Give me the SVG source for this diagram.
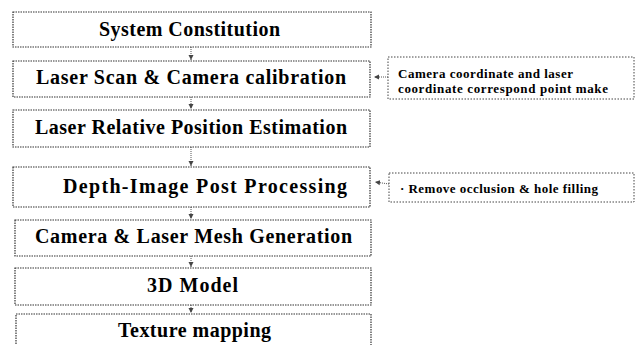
<svg xmlns="http://www.w3.org/2000/svg" width="636" height="345" viewBox="0 0 636 345">
<style>
.box{fill:#fff;stroke:#333;stroke-width:1.2;stroke-dasharray:1.5 1}
.side{fill:#fff;stroke:#444;stroke-width:1;stroke-dasharray:1.5 1.5}
.t{font-weight:bold;font-size:20px;fill:#000}
.s{font-weight:bold;font-size:13px;fill:#000}
.c{fill:none;stroke:#555;stroke-width:1;stroke-dasharray:1 1}
</style>
<defs>
<marker id="ah" markerWidth="6" markerHeight="6" refX="5" refY="3" orient="auto" markerUnits="userSpaceOnUse">
<path d="M0,0.5 L5,3 L0,5.5 Z" fill="#444"/>
</marker>
</defs>
<rect width="636" height="345" fill="#fff"/>
<g id="connectors">
<line class="c" x1="191" y1="47" x2="191" y2="60" marker-end="url(#ah)"/>
<line class="c" x1="191" y1="97" x2="191" y2="109" marker-end="url(#ah)"/>
<line class="c" x1="191" y1="147" x2="191" y2="166" marker-end="url(#ah)"/>
<line class="c" x1="191" y1="207" x2="191" y2="219" marker-end="url(#ah)"/>
<line class="c" x1="191" y1="256" x2="191" y2="267" marker-end="url(#ah)"/>
<line class="c" x1="191" y1="305" x2="191" y2="313" marker-end="url(#ah)"/>
<line class="c" x1="388" y1="77" x2="374" y2="77" marker-end="url(#ah)"/>
<line class="c" x1="389" y1="184" x2="375" y2="182" marker-end="url(#ah)"/>
</g>
<g font-family="Liberation Serif, DejaVu Serif, serif">
<g id="n1"><rect class="box" x="13" y="12" width="358" height="35"/><text class="t" x="99" y="36" textLength="181">System Constitution</text></g>
<g id="n2"><rect class="box" x="13" y="61" width="357" height="36"/><text class="t" x="36" y="84" textLength="310">Laser Scan &amp; Camera calibration</text></g>
<g id="n3"><rect class="box" x="13" y="110" width="357" height="37"/><text class="t" x="35" y="134" textLength="312">Laser Relative Position Estimation</text></g>
<g id="n4"><rect class="box" x="13" y="167" width="357" height="40"/><text class="t" x="63" y="193" textLength="284">Depth-Image Post Processing</text></g>
<g id="n5"><rect class="box" x="15" y="220" width="356" height="36"/><text class="t" x="35" y="243" textLength="317">Camera &amp; Laser Mesh Generation</text></g>
<g id="n6"><rect class="box" x="15" y="268" width="356" height="37"/><text class="t" x="147" y="292" textLength="91">3D Model</text></g>
<g id="n7"><rect class="box" x="16" y="314" width="355" height="40"/><text class="t" x="118" y="337" textLength="153">Texture mapping</text></g>
<g id="s1"><rect class="side" x="388" y="57" width="246" height="42"/><text class="s" x="398" y="78" textLength="175">Camera coordinate and laser</text><text class="s" x="398" y="93" textLength="210">coordinate  correspond point make</text></g>
<g id="s2"><rect class="side" x="389" y="173" width="245" height="29"/><text class="s" x="400" y="193" textLength="198">· Remove occlusion &amp; hole filling</text></g>
</g>
</svg>
